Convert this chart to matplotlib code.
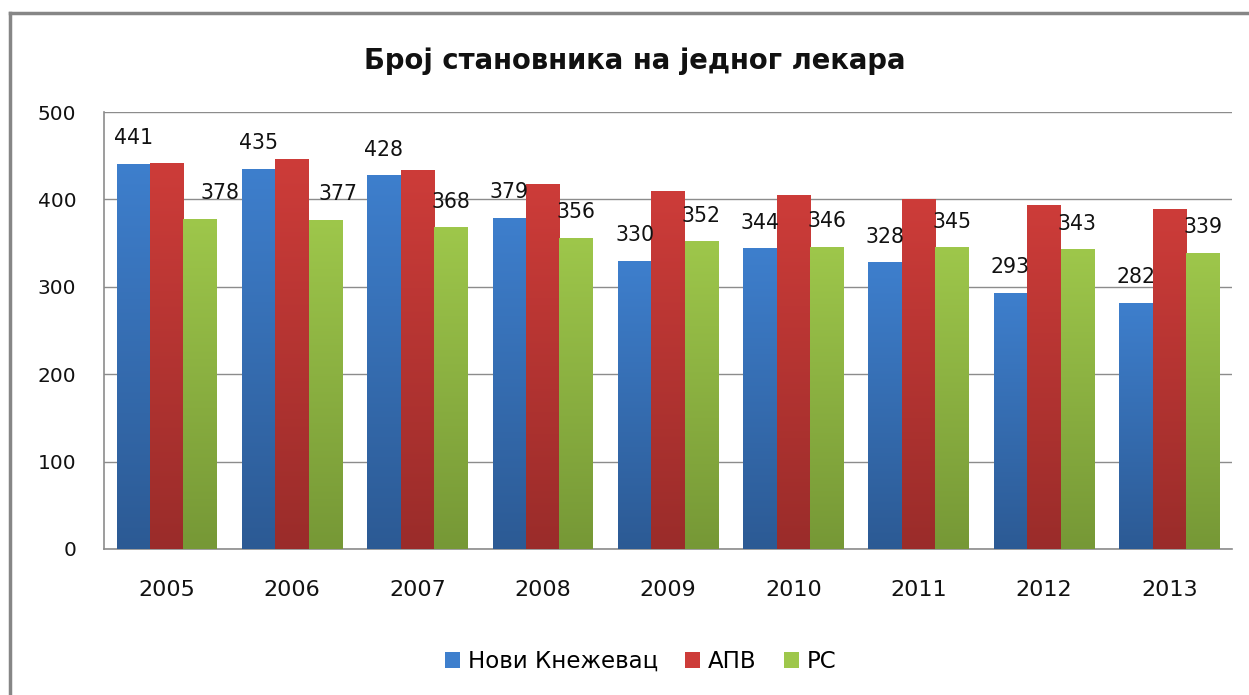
import numpy as np
import matplotlib
matplotlib.use("Agg")
import matplotlib.pyplot as plt
from matplotlib.colors import LinearSegmentedColormap
from matplotlib.patches import Patch
from matplotlib.lines import Line2D

plt.rcParams['font.family'] = ['DejaVu Sans']

# data
years = ['2005', '2006', '2007', '2008', '2009', '2010', '2011', '2012', '2013']
knjazevac = [441, 435, 428, 379, 330, 344, 328, 293, 282]
apv = [442, 446, 434, 418, 410, 405, 400, 394, 389]
rs = [378, 377, 368, 356, 352, 346, 345, 343, 339]
series_names = ['Нови Кнежевац', 'АПВ', 'РС']
title = 'Број становника на једног лекара'

# (top colour, bottom colour) for the gradient fills
colors = [('#3e7fcd', '#2c5a94'), ('#cd3c39', '#9a2c2a'), ('#9ec74b', '#769836')]

fig = plt.figure(figsize=(12.49, 6.95), dpi=100)
ax = fig.add_axes([0.0833, 0.2101, 0.9031, 0.6287])

x = np.arange(len(years))
w = 0.267
grad = np.linspace(0, 1, 256).reshape(-1, 1)

all_series = [knjazevac, apv, rs]
for i, vals in enumerate(all_series):
    top, bottom = colors[i]
    cmap = LinearSegmentedColormap.from_list('g%d' % i, [bottom, top])
    offs = (i - 1) * w
    bars = ax.bar(x + offs, vals, w, color='none', edgecolor='none', zorder=3)
    for b in bars:
        x0 = b.get_x()
        h = b.get_height()
        im = ax.imshow(grad, cmap=cmap, origin='lower', aspect='auto',
                       extent=[x0, x0 + w, 0, h], zorder=3)
        im.set_clip_path(b)

# labels only on first and last series, like the original
label_dx = {0: [0] * 9, 2: [14, 9, 0, 0, 0, 0, 0, 0, 0]}
for i in (0, 2):
    offs = (i - 1) * w
    for j, v in enumerate(all_series[i]):
        ax.annotate(str(v), (x[j] + offs, v), xytext=(label_dx[i][j], 14),
                    textcoords='offset points', ha='center', va='baseline',
                    fontsize=14.8, color='#111111', zorder=5)

ax.set_xlim(-0.5, len(years) - 0.5)
ax.set_ylim(0, 500)
ax.set_yticks([0, 100, 200, 300, 400, 500])
ax.set_xticks(x)
ax.set_xticklabels(years)
ax.tick_params(axis='both', length=0, colors='#111111')
ax.tick_params(axis='x', pad=22, labelsize=16)
ax.tick_params(axis='y', pad=20, labelsize=14.5)
ax.yaxis.grid(True, color='#8c8c8c', linewidth=1)
ax.set_axisbelow(True)
for s in ['top', 'right']:
    ax.spines[s].set_visible(False)
for s in ['left', 'bottom']:
    ax.spines[s].set_color('#8c8c8c')
    ax.spines[s].set_linewidth(1.2)

fig.text(0.508, 0.912, title, ha='center', va='center', fontsize=19.8,
         fontweight='bold', color='#111111')

handles = [Patch(facecolor=c[0], edgecolor='none') for c in colors]
fig.legend(handles, series_names, loc='center', bbox_to_anchor=(0.513, 0.048),
           ncol=3, frameon=False, fontsize=16.5, handlelength=0.65,
           handleheight=0.65, handletextpad=0.35, columnspacing=1.2)

# outer chart frame (only top and left edges are visible in the crop)
fig.add_artist(Line2D([0.008, 0.008], [0, 0.981], transform=fig.transFigure,
                      color='#868686', linewidth=2.5))
fig.add_artist(Line2D([0.008, 1.0], [0.981, 0.981], transform=fig.transFigure,
                      color='#868686', linewidth=2.5))

fig.savefig('out.png', dpi=100, facecolor='white')
